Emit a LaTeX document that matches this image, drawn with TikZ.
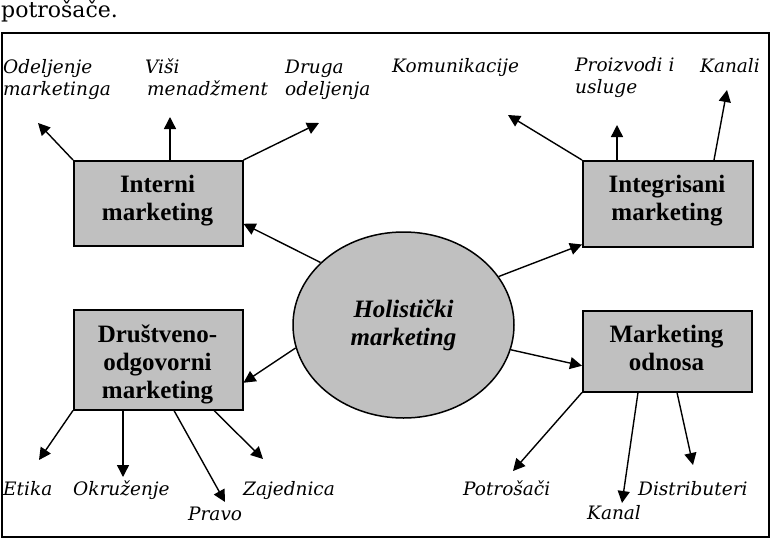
\documentclass[tikz,border=0pt]{standalone}
\usepackage{fontspec}
\setmainfont{DejaVu Serif}
\newfontfamily\boxfont{Liberation Serif}
\newfontfamily\labfont{DejaVu Serif}
\usetikzlibrary{arrows.meta,shapes.geometric,calc}
\definecolor{boxgray}{RGB}{192,192,192}
\begin{document}
\begin{tikzpicture}[x=1pt,y=-1pt,
  lab/.style={inner sep=0pt,anchor=base west,align=left,font=\labfont\itshape\fontsize{18.5}{22}\selectfont},
  boxtxt/.style={inner sep=0pt,anchor=base,align=center,font=\boxfont\bfseries\fontsize{25}{28}\selectfont},
  mbox/.style={draw,line width=1.5pt,fill=boxgray,inner sep=0pt,anchor=north west},
  arr/.style={line width=1.4pt,-{Triangle[length=12pt,width=12pt]}},
]
\useasboundingbox (0,0) rectangle (771,541);
\node[inner sep=0pt,anchor=base west,font=\fontsize{22}{26}\selectfont] (top) at (1,17) {potrošače.};
\draw[line width=2pt] (2,33) rectangle (769,537);

% boxes
\node[mbox,minimum width=169pt,minimum height=85pt] (intb) at (73,160) {};
\node[mbox,minimum width=170pt,minimum height=86pt] (intg) at (582,160) {};
\node[mbox,minimum width=169pt,minimum height=100pt] (drb) at (73,309) {};
\node[mbox,minimum width=169pt,minimum height=81pt] (mob) at (582,310) {};
\node[ellipse,draw,fill=boxgray,line width=1.5pt,inner sep=0pt,minimum width=221pt,minimum height=186pt] (ell) at (403.5,325) {};

% multi-line nodes: base anchor = baseline of last line
\node[boxtxt] (intbt) at (157.5,220) {Interni\\marketing};
\node[boxtxt] (intgt) at (667,220) {Integrisani\\marketing};
\node[boxtxt] (drbt) at (157.5,398) {Društveno-\\odgovorni\\marketing};
\node[boxtxt] (mobt) at (666.5,370) {Marketing\\odnosa};
\node[boxtxt,font=\boxfont\bfseries\itshape\fontsize{25}{28}\selectfont] (ellt) at (403.5,345) {Holistički\\marketing};

% labels
\node[lab] (l1) at (3,95) {Odeljenje\\marketinga};
\node[lab] (l2) at (145,95) {Viši\\\hspace*{2pt}menadžment};
\node[lab] (l3) at (285,95) {Druga\\odeljenja};
\node[lab] (l4) at (392,72) {Komunikacije};
\node[lab] (l5) at (575,93) {Proizvodi i\\usluge};
\node[lab] (l6) at (700,72) {Kanali};
\node[lab] (l7) at (3,495) {Etika};
\node[lab] (l8) at (73,495) {Okruženje};
\node[lab] (l9) at (188,520) {Pravo};
\node[lab] (l10) at (243,495) {Zajednica};
\node[lab] (l11) at (463,495) {Potrošači};
\node[lab] (l12) at (587,519) {Kanal};
\node[lab] (l13) at (638,495) {Distributeri};

% arrow tips
\coordinate (a1) at (38,123);
\coordinate (a2) at (170,117);
\coordinate (a3) at (319,123);
\coordinate (b1) at (508,115);
\coordinate (b2) at (617,125);
\coordinate (b3) at (727,90);
\coordinate (c1) at (39,460);
\coordinate (c2) at (123,477);
\coordinate (c3) at (225,502);
\coordinate (c4) at (263,459);
\coordinate (d1) at (513,471);
\coordinate (d2) at (622,503);
\coordinate (d3) at (693,465);

\draw[arr] (intb.north west) -- (a1);
\draw[arr] ([xshift=97pt]intb.north west) -- (a2);
\draw[arr] (intb.north east) -- (a3);
\draw[arr] (intg.north west) -- (b1);
\draw[arr] ([xshift=35pt]intg.north west) -- (b2);
\draw[arr] ([xshift=132pt]intg.north west) -- (b3);
\draw[arr] (drb.south west) -- (c1);
\draw[arr] ([xshift=50pt]drb.south west) -- (c2);
\draw[arr] ([xshift=101pt]drb.south west) -- (c3);
\draw[arr] ([xshift=141pt]drb.south west) -- (c4);
\draw[arr] (mob.south west) -- (d1);
\draw[arr] ([xshift=56pt]mob.south west) -- (d2);
\draw[arr] ([xshift=95pt]mob.south west) -- (d3);

\draw[arr] (ell.143.6) -- ([yshift=-20.5pt]intb.east);
\draw[arr] (ell.27.9) -- ([yshift=3pt]intg.south west);
\draw[arr] (ell.192.4) -- ([yshift=-23pt]drb.east);
\draw[arr] (ell.347.6) -- ([yshift=-14.5pt]mob.west);
\end{tikzpicture}
\end{document}
